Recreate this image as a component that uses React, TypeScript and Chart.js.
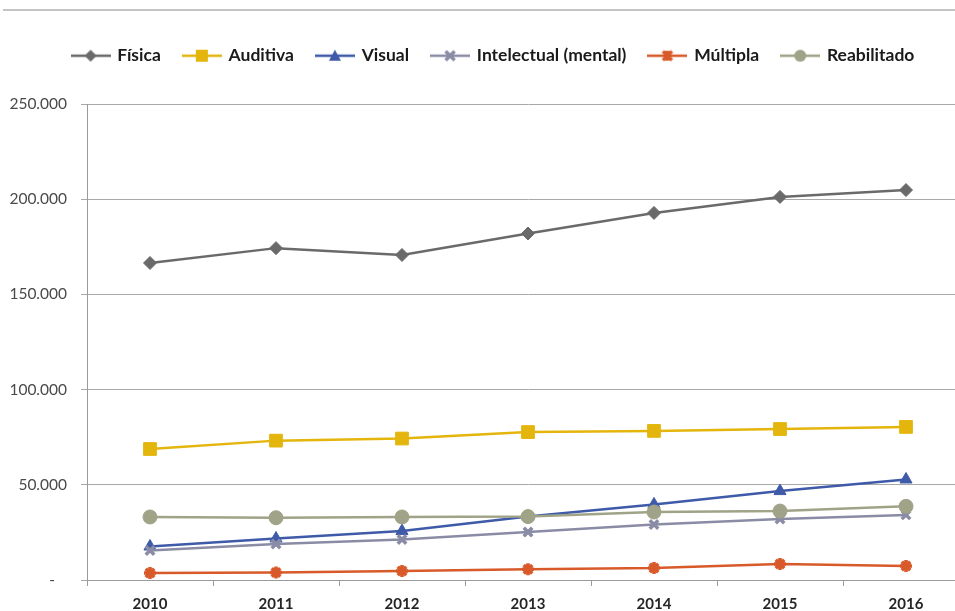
import React, { useEffect, useRef } from "react";
import { Chart, registerables } from "chart.js";

Chart.register(...registerables);

const years = ["2010", "2011", "2012", "2013", "2014", "2015", "2016"];
const seriesNames = ["Física", "Auditiva", "Visual", "Intelectual (mental)", "Múltipla", "Reabilitado"];
const fisica = [166500, 174300, 170700, 182000, 192800, 201200, 204800];
const auditiva = [68800, 73200, 74300, 77700, 78300, 79300, 80400];
const visual = [17600, 21800, 25700, 33300, 39700, 46700, 52800];
const intelectual = [15500, 18900, 21300, 25200, 29100, 32000, 34200];
const multipla = [3700, 3900, 4700, 5700, 6300, 8400, 7400];
const reabilitado = [33100, 32700, 33100, 33300, 35700, 36200, 38700];
const yTicks = [0, 50000, 100000, 150000, 200000, 250000];

const colors = ["#6a6a6a", "#e4b50c", "#3e5aa8", "#8a8ca6", "#d85a2a", "#a0a387"];
const styles = ["rectRot", "rect", "triangle", "crossRot", "star", "circle"];
const radii = [6.5, 9, 7, 6, 6, 7];
const borderW = [1, 1, 1, 3.5, 3.5, 1];

function fmt(v: number): string {
  if (v === 0) return "-   ";
  return String(v).replace(/\B(?=(\d{3})+(?!\d))/g, ".");
}

function makeIcon(color: string, style: string): HTMLCanvasElement {
  const c = document.createElement("canvas");
  c.width = 40;
  c.height = 16;
  const ctx = c.getContext("2d")!;
  ctx.strokeStyle = color;
  ctx.fillStyle = color;
  ctx.lineWidth = 2.5;
  ctx.beginPath();
  ctx.moveTo(0, 8);
  ctx.lineTo(40, 8);
  ctx.stroke();
  const x = 20, y = 8;
  ctx.beginPath();
  if (style === "rectRot") {
    ctx.moveTo(x, y - 6); ctx.lineTo(x + 6, y); ctx.lineTo(x, y + 6); ctx.lineTo(x - 6, y); ctx.closePath(); ctx.fill();
  } else if (style === "rect") {
    ctx.rect(x - 6, y - 6, 12, 12); ctx.fill();
  } else if (style === "triangle") {
    ctx.moveTo(x, y - 6); ctx.lineTo(x + 6, y + 5); ctx.lineTo(x - 6, y + 5); ctx.closePath(); ctx.fill();
  } else if (style === "crossRot") {
    ctx.lineWidth = 3.5;
    ctx.moveTo(x - 4.5, y - 4.5); ctx.lineTo(x + 4.5, y + 4.5);
    ctx.moveTo(x + 4.5, y - 4.5); ctx.lineTo(x - 4.5, y + 4.5); ctx.stroke();
  } else if (style === "star") {
    ctx.lineWidth = 3.5;
    ctx.moveTo(x - 4.5, y - 4.5); ctx.lineTo(x + 4.5, y + 4.5);
    ctx.moveTo(x + 4.5, y - 4.5); ctx.lineTo(x - 4.5, y + 4.5);
    ctx.moveTo(x, y - 5); ctx.lineTo(x, y + 5); ctx.stroke();
  } else {
    ctx.arc(x, y, 6, 0, Math.PI * 2); ctx.fill();
  }
  return c;
}

export default function App() {
  const ref = useRef<HTMLCanvasElement>(null);
  useEffect(() => {
    if (!ref.current) return;
    const values = [fisica, auditiva, visual, intelectual, multipla, reabilitado];
    const icons = colors.map((c, i) => makeIcon(c, styles[i]));
    const legendExtra = {
      id: "legendExtra",
      afterInit(chart: any) {
        const lg = chart.legend;
        if (lg && !lg.__patched) {
          const origFit = lg.fit.bind(lg);
          lg.fit = function () {
            origFit();
            this.height += 29.5;
          };
          const origDraw = lg.draw.bind(lg);
          lg.draw = function () {
            this.left += 9;
            this.right += 9;
            origDraw();
            this.left -= 9;
            this.right -= 9;
          };
          lg.__patched = true;
        }
      },
    };
    const chart = new Chart(ref.current, {
      type: "line",
      data: {
        labels: years,
        datasets: values.map((d, i) => ({
          label: seriesNames[i],
          data: d,
          borderColor: colors[i],
          backgroundColor: colors[i],
          pointBackgroundColor: colors[i],
          pointBorderColor: colors[i],
          pointStyle: styles[i] as any,
          pointRadius: radii[i],
          pointBorderWidth: borderW[i],
          borderWidth: 2.5,
          tension: 0,
          fill: false,
          order: 5 - i,
        })),
      },
      options: {
        responsive: false,
        animation: false,
        layout: { padding: { top: 24, left: 0, right: 21, bottom: 0 } },
        plugins: {
          tooltip: { enabled: false },
          legend: {
            position: "top",
            labels: {
              usePointStyle: true,
              pointStyleWidth: 36,
              padding: 23,
              color: "#1a1a1a",
              font: { family: "Lato", size: 17.5, weight: "bold" },
              generateLabels(chart: any) {
                const items = Chart.defaults.plugins.legend.labels.generateLabels(chart);
                items.sort((a: any, b: any) => a.datasetIndex - b.datasetIndex);
                return items.map((it: any) => ({ ...it, pointStyle: icons[it.datasetIndex] }));
              },
            },
          },
        },
        scales: {
          x: {
            type: "category",
            offset: true,
            grid: { drawOnChartArea: false, drawTicks: true, tickLength: 6, color: "#9a9a9a", offset: true },
            border: { color: "#9a9a9a", width: 1 },
            ticks: { color: "#262626", padding: 9, font: { family: "Lato", size: 15, weight: "bold" } },
          },
          y: {
            min: 0,
            max: 250000,
            afterFit(scale: any) {
              scale.width = 87;
            },
            afterBuildTicks(scale: any) {
              scale.ticks = yTicks.map((v) => ({ value: v }));
            },
            grid: { color: "#a8a8a8", lineWidth: 1, tickLength: 6 },
            border: { color: "#9a9a9a", width: 1 },
            ticks: {
              color: "#4a4a4a",
              padding: 14,
              font: { family: "Lato", size: 15.5 },
              callback: (v: any) => fmt(Number(v)),
            },
          },
        },
      },
      plugins: [legendExtra],
    } as any);
    return () => chart.destroy();
  }, []);
  return (
    <div style={{ position: "fixed", left: 0, top: 0, width: 955, height: 611, overflow: "hidden", background: "#fff" }}>
      <div style={{ position: "absolute", left: 3, top: 9, width: 952, height: 2, background: "#c4c4c4", zIndex: 1 }} />
      <canvas ref={ref} width={990} height={622} style={{ position: "absolute", left: 0, top: 0, width: 990, height: 622 }} />
    </div>
  );
}
